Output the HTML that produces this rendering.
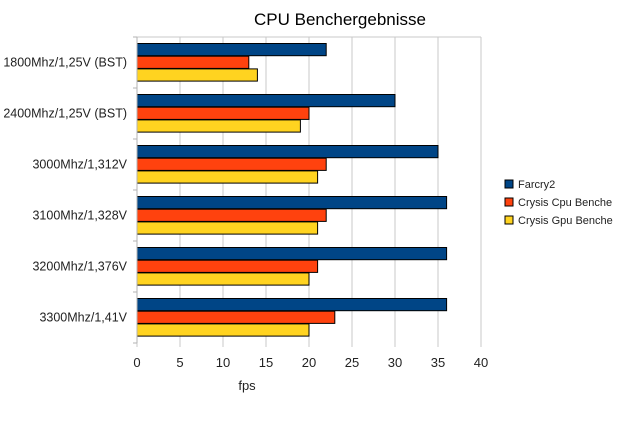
<!DOCTYPE html>
<html><head><meta charset="utf-8"><style>
body{margin:0;background:#fff;font-family:"Liberation Sans",sans-serif}
</style></head><body>
<svg width="641" height="446" xmlns="http://www.w3.org/2000/svg" style="display:block">
<text x="340" y="25" font-size="17" text-anchor="middle" font-family="Liberation Sans">CPU Benchergebnisse</text>
<g id="grid"></g><g id="bars"></g><g id="axes"></g>
<text x="247" y="390" font-size="13" text-anchor="middle" fill="#222">fps</text>
<g id="legend"></g>
</svg>
<script>
const categories=["1800Mhz/1,25V (BST)","2400Mhz/1,25V (BST)","3000Mhz/1,312V","3100Mhz/1,328V","3200Mhz/1,376V","3300Mhz/1,41V"];
const farcry=[22,30,35,36,36,36];
const cpuBench=[13,20,22,22,21,23];
const gpuBench=[14,19,21,21,20,20];
const ticks=[0,5,10,15,20,25,30,35,40];
const seriesNames=["Farcry2","Crysis Cpu Benche","Crysis Gpu Benche"];
const colors=["#004586","#ff420e","#ffd320"];
const NS="http://www.w3.org/2000/svg";
const x0=137,x1=481,yTop=37,yBot=343;
const xs=v=>x0+(v-0)/(40-0)*(x1-x0);
const band=(yBot-yTop)/categories.length;
function mk(t,a,p){const e=document.createElementNS(NS,t);for(const k in a)e.setAttribute(k,a[k]);p.appendChild(e);return e;}
const grid=document.getElementById('grid'),bars=document.getElementById('bars'),axes=document.getElementById('axes'),leg=document.getElementById('legend');
const topBorder=mk('line',{x1:x0-4,x2:x1,y1:yTop,y2:yTop,stroke:'#c8c8c8','stroke-width':1},grid);


ticks.forEach(t=>{
 const l=mk('line',{x1:xs(t),x2:xs(t),y1:yTop,y2:yBot+4,stroke:'#c8c8c8','stroke-width':1},grid);
 
 
 const tx=mk('text',{x:xs(t),y:367,'font-size':13,'text-anchor':'middle',fill:'#222'},axes);
 tx.textContent=t;
 
 
});
const series=[farcry,cpuBench,gpuBench];
const bh=12.7;
categories.forEach((c,i)=>{
 const by=yTop+i*band;
 const tk=mk('line',{x1:x0-4,x2:x0,y1:by,y2:by,stroke:'#b3b3b3'},axes);
 
 
 series.forEach((s,j)=>{
  const r=mk('rect',{x:x0,y:by+6.5+j*bh,width:xs(s[i])-x0,height:bh-0.5,fill:colors[j],stroke:'#000','stroke-width':1},bars);
  
  
 });
 const t=mk('text',{x:127,y:by+band/2+4,'font-size':12.5,'text-anchor':'end',fill:'#222'},axes);
 t.textContent=c;
 
 
});
const bl=mk('line',{x1:x0-4,x2:x0,y1:yBot,y2:yBot,stroke:'#b3b3b3'},axes);


const ax=mk('line',{x1:x0,x2:x0,y1:yTop,y2:yBot,stroke:'#b3b3b3'},axes);


seriesNames.forEach((n,j)=>{
 const y=184+j*18;
 const r=mk('rect',{x:505,y:y-4,width:8,height:8,fill:colors[j],stroke:'#000'},leg);
 
 
 const t=mk('text',{x:518,y:y+4,'font-size':11,fill:'#222'},leg);
 t.textContent=n;
 
 
});
</script>
</body></html>
